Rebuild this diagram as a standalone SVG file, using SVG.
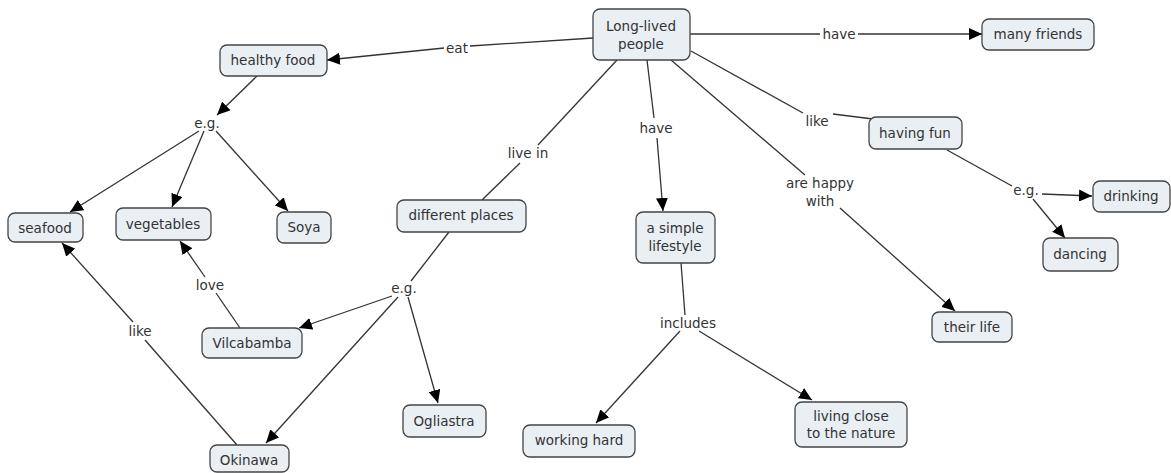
<svg xmlns="http://www.w3.org/2000/svg" width="1171" height="473" viewBox="0 0 1171 473">
<style>
.n rect{fill:#e9eff3;stroke:#444;stroke-width:1.3}
text{font-family:"DejaVu Sans",Verdana,sans-serif;font-size:13.5px;fill:#333;text-anchor:middle;dominant-baseline:central}
.c line{stroke:#333;stroke-width:1.3}
</style>
<defs>
<marker id="a" markerUnits="userSpaceOnUse" markerWidth="14" markerHeight="12" refX="13" refY="6" orient="auto">
<path d="M0,0 L13,6 L0,12 Z" fill="#000"/>
</marker>
</defs>
<g class="c" id="connectors">
<line x1="593" y1="38" x2="470" y2="46"/>
<line x1="444" y1="48" x2="327" y2="60" marker-end="url(#a)"/>
<line x1="690" y1="34" x2="820" y2="34"/>
<line x1="858" y1="34" x2="982" y2="34" marker-end="url(#a)"/>
<line x1="691" y1="51" x2="803" y2="113"/>
<line x1="833" y1="114" x2="873" y2="119"/>
<line x1="617" y1="60" x2="538" y2="145"/>
<line x1="520" y1="163" x2="482" y2="200"/>
<line x1="647" y1="60" x2="654" y2="118"/>
<line x1="657" y1="138" x2="663" y2="211" marker-end="url(#a)"/>
<line x1="671" y1="60" x2="805" y2="175"/>
<line x1="840" y1="208" x2="955" y2="311" marker-end="url(#a)"/>
<line x1="257" y1="76" x2="217" y2="115" marker-end="url(#a)"/>
<line x1="199" y1="131" x2="70" y2="212" marker-end="url(#a)"/>
<line x1="204" y1="131" x2="172" y2="207" marker-end="url(#a)"/>
<line x1="216" y1="131" x2="288" y2="211" marker-end="url(#a)"/>
<line x1="947" y1="150" x2="1012" y2="186"/>
<line x1="1042" y1="194" x2="1092" y2="196" marker-end="url(#a)"/>
<line x1="1033" y1="199" x2="1065" y2="238" marker-end="url(#a)"/>
<line x1="449" y1="232" x2="411" y2="281"/>
<line x1="392" y1="296" x2="299" y2="328" marker-end="url(#a)"/>
<line x1="398" y1="297" x2="266" y2="443" marker-end="url(#a)"/>
<line x1="408" y1="297" x2="438" y2="403" marker-end="url(#a)"/>
<line x1="240" y1="328" x2="216" y2="293"/>
<line x1="205" y1="277" x2="180" y2="241" marker-end="url(#a)"/>
<line x1="237" y1="445" x2="145" y2="340"/>
<line x1="133" y1="322" x2="62" y2="243" marker-end="url(#a)"/>
<line x1="681" y1="263" x2="685" y2="315"/>
<line x1="680" y1="331" x2="596" y2="423" marker-end="url(#a)"/>
<line x1="699" y1="331" x2="812" y2="400" marker-end="url(#a)"/>
</g>
<g id="labels">
<text x="457" y="48">eat</text>
<text x="839" y="34">have</text>
<text x="817" y="121">like</text>
<text x="528" y="153">live in</text>
<text x="656" y="128">have</text>
<text x="820" y="183">are happy</text>
<text x="820" y="201">with</text>
<text x="207" y="123">e.g.</text>
<text x="1026" y="190">e.g.</text>
<text x="404" y="288">e.g.</text>
<text x="210" y="285">love</text>
<text x="140" y="331">like</text>
<text x="688" y="323">includes</text>
</g>
<g class="n" id="long-lived"><rect x="593" y="9" width="97" height="51" rx="7"/><text x="641" y="26">Long-lived</text><text x="641" y="44">people</text></g>
<g class="n" id="healthy-food"><rect x="220" y="45" width="107" height="31" rx="7"/><text x="273" y="60">healthy food</text></g>
<g class="n" id="many-friends"><rect x="982" y="19" width="112" height="31" rx="7"/><text x="1038" y="34">many friends</text></g>
<g class="n" id="having-fun"><rect x="869" y="117" width="93" height="32" rx="7"/><text x="915" y="133">having fun</text></g>
<g class="n" id="drinking"><rect x="1093" y="181" width="77" height="31" rx="7"/><text x="1131" y="196">drinking</text></g>
<g class="n" id="dancing"><rect x="1043" y="238" width="75" height="33" rx="7"/><text x="1080" y="254">dancing</text></g>
<g class="n" id="seafood"><rect x="8" y="213" width="75" height="29" rx="7"/><text x="45" y="228">seafood</text></g>
<g class="n" id="vegetables"><rect x="116" y="208" width="95" height="32" rx="7"/><text x="163" y="224">vegetables</text></g>
<g class="n" id="soya"><rect x="277" y="212" width="54" height="31" rx="7"/><text x="304" y="227">Soya</text></g>
<g class="n" id="different-places"><rect x="397" y="200" width="129" height="32" rx="7"/><text x="461" y="215">different places</text></g>
<g class="n" id="simple-lifestyle"><rect x="636" y="212" width="79" height="51" rx="7"/><text x="675" y="228">a simple</text><text x="675" y="246">lifestyle</text></g>
<g class="n" id="their-life"><rect x="932" y="312" width="80" height="30" rx="7"/><text x="972" y="327">their life</text></g>
<g class="n" id="vilcabamba"><rect x="202" y="328" width="100" height="30" rx="7"/><text x="252" y="343">Vilcabamba</text></g>
<g class="n" id="ogliastra"><rect x="403" y="405" width="83" height="32" rx="7"/><text x="444" y="421">Ogliastra</text></g>
<g class="n" id="okinawa"><rect x="210" y="445" width="79" height="27" rx="7"/><text x="249" y="460">Okinawa</text></g>
<g class="n" id="working-hard"><rect x="523" y="425" width="112" height="32" rx="7"/><text x="579" y="440">working hard</text></g>
<g class="n" id="living-close"><rect x="795" y="402" width="112" height="45" rx="7"/><text x="851" y="416">living close</text><text x="851" y="433">to the nature</text></g>
</svg>
